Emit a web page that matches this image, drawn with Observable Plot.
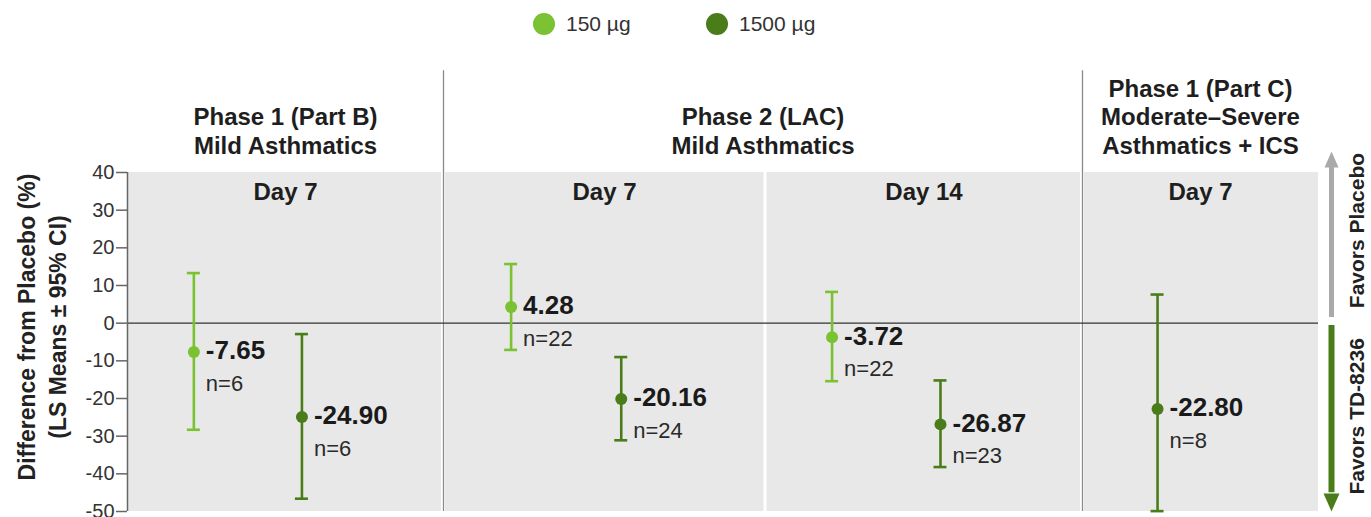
<!DOCTYPE html>
<html>
<head>
<meta charset="utf-8">
<script src="https://cdn.jsdelivr.net/npm/d3@7"></script>
<script src="https://cdn.jsdelivr.net/npm/@observablehq/plot@0.6"></script>
<style>
  html, body { margin: 0; padding: 0; background: #fff; }
  body { width: 1371px; height: 517px; overflow: hidden; font-family: "Liberation Sans", Arial, sans-serif; }
  #legend { height: 48px; position: relative; }
  .sw { position: absolute; top: 0; height: 48px; display: flex; align-items: center; font-size: 21px; color: #333; }
  .sw span.c { width: 22px; height: 22px; border-radius: 50%; display: inline-block; margin-right: 11px; }
  svg { display: block; }
</style>
</head>
<body>
<div id="legend"></div>
<div id="chart"></div>
<script>
// ---- data ----
const doses = ["150 µg", "1500 µg"];
const doseColors = ["#7ac231", "#4a7c19"];
const groupHeaders = ["Phase 1 (Part B)\nMild Asthmatics", "Phase 2 (LAC)\nMild Asthmatics", "Phase 1 (Part C)\nModerate–Severe\nAsthmatics + ICS"];
const panelDays = ["Day 7", "Day 7", "Day 14", "Day 7"];
const panelGroup = [0, 1, 1, 2];
const pointPanel = [0, 0, 1, 1, 2, 2, 3];
const pointDose = ["150 µg", "1500 µg", "150 µg", "1500 µg", "150 µg", "1500 µg", "1500 µg"];
const lsMean = [-7.65, -24.90, 4.28, -20.16, -3.72, -26.87, -22.80];
const ciLower = [-28.3, -46.6, -7.1, -31.1, -15.4, -38.2, -49.9];
const ciUpper = [13.3, -2.9, 15.7, -9.0, 8.3, -15.2, 7.6];
const nSubjects = [6, 6, 22, 24, 22, 23, 8];
const yTicks = [40, 30, 20, 10, 0, -10, -20, -30, -40, -50];
const yTitle = ["Difference from Placebo (%)", "(LS Means ± 95% CI)"];
const sideLabels = ["Favors Placebo", "Favors TD-8236"];

// ---- layout (x in pixel-like units from the y axis) ----
const panelStart = [0, 316, 638, 955];
const panelEnd = [316, 638, 955, 1191];
const doseFrac = {"150 µg": 0.21, "1500 µg": 0.552};
const singleFrac = 0.318;
const capHalf = 6.5;
const arrowX = 1204, sideTextX = 1230;

const panelCounts = pointPanel.reduce((m, p) => (m[p] = (m[p] || 0) + 1, m), {});
const points = lsMean.map((m, i) => {
  const p = pointPanel[i];
  const f = panelCounts[p] === 1 ? singleFrac : doseFrac[pointDose[i]];
  return {
    x: panelStart[p] + f * (panelEnd[p] - panelStart[p]),
    mean: m, lo: ciLower[i], hi: ciUpper[i], n: nSubjects[i], dose: pointDose[i]
  };
});
const panels = panelDays.map((d, i) => ({
  day: d, x1: panelStart[i], x2: panelEnd[i], cx: (panelStart[i] + panelEnd[i]) / 2
}));
const groups = groupHeaders.map((h, g) => {
  const idx = panelGroup.map((pg, i) => pg === g ? i : -1).filter(i => i >= 0);
  return {text: h, cx: (panelStart[idx[0]] + panelEnd[idx[idx.length - 1]]) / 2};
});
const separators = [panelEnd[0], panelEnd[2]];
const grayRects = panels.map((p, i) => ({
  x1: p.x1 + (i === 0 ? 1 : i === 2 ? 1.5 : 2),
  x2: p.x2 - (i === 1 ? 1.5 : i === 3 ? 0 : 2)
}));

// legend
const legend = document.getElementById("legend");
const legendLeft = [533, 706];
doses.forEach((d, i) => {
  const el = document.createElement("div");
  el.className = "sw";
  el.style.left = legendLeft[i] + "px";
  el.innerHTML = `<span class="c" style="background:${doseColors[i]}"></span>${d}`;
  legend.appendChild(el);
});

const font = "Liberation Sans, Arial, sans-serif";
const chart = Plot.plot({
  width: 1371,
  height: 469,
  marginTop: 124,
  marginBottom: 6,
  marginLeft: 127,
  marginRight: 53,
  style: {fontFamily: font, background: "transparent"},
  x: {domain: [0, 1191], axis: null},
  y: {domain: [-50, 40], axis: null},
  color: {domain: doses, range: doseColors},
  marks: [
    Plot.rectY(grayRects, {x1: "x1", x2: "x2", y1: -50, y2: 40, fill: "#e8e8e8"}),
    Plot.ruleX(separators, {y1: -50, y2: 67, stroke: "#8a8a8a", strokeWidth: 1.3}),
    Plot.ruleY([0], {x1: 0, x2: 1191, stroke: "#333", strokeWidth: 1.3}),
    Plot.ruleX([0], {y1: -50, y2: 40, stroke: "#666", strokeWidth: 1.5}),
    Plot.axisY({ticks: yTicks, tickFormat: d => String(d), tickSize: 11, tickPadding: 2,
      fontSize: 20, stroke: "#666", strokeWidth: 1.5, color: "#333", label: null}),
    // y title
    Plot.text([yTitle[0]], {text: d => d, frameAnchor: "left", textAnchor: "middle", rotate: -90, dx: -100, dy: -15,
      fontSize: 23, fontWeight: "bold", fill: "#222"}),
    Plot.text([yTitle[1]], {text: d => d, frameAnchor: "left", textAnchor: "middle", rotate: -90, dx: -69, dy: -15,
      fontSize: 23, fontWeight: "bold", fill: "#222"}),
    // headers
    Plot.text(groups, {x: "cx", text: "text", frameAnchor: "top", lineAnchor: "bottom", dy: -19,
      lineHeight: 1.17, fontSize: 24, fontWeight: "bold", fill: "#1e1e1e"}),
    Plot.text(panels, {x: "cx", text: "day", frameAnchor: "top", lineAnchor: "bottom", dy: 27,
      fontSize: 24, fontWeight: "bold", fill: "#1e1e1e"}),
    // error bars
    Plot.ruleX(points, {x: "x", y1: "lo", y2: "hi", stroke: "dose", strokeWidth: 2.6}),
    Plot.ruleY(points, {y: "lo", x1: d => d.x - capHalf, x2: d => d.x + capHalf, stroke: "dose", strokeWidth: 2.6}),
    Plot.ruleY(points, {y: "hi", x1: d => d.x - capHalf, x2: d => d.x + capHalf, stroke: "dose", strokeWidth: 2.6}),
    Plot.dot(points, {x: "x", y: "mean", fill: "dose", r: 6}),
    // labels
    Plot.text(points, {x: "x", y: "mean", text: d => d.mean.toFixed(2), textAnchor: "start", lineAnchor: "middle",
      dx: 12, dy: -1, fontSize: 26, fontWeight: "bold", fill: "#1a1a1a"}),
    Plot.text(points, {x: "x", y: "mean", text: d => "n=" + d.n, textAnchor: "start", lineAnchor: "bottom",
      dx: 12, dy: 39, fontSize: 22, fill: "#2a2a2a"}),
    // side arrows
    Plot.ruleX([arrowX], {y1: 1.5, y2: 41.5, stroke: "#a9a9a9", strokeWidth: 5}),
    Plot.vector([arrowX], {x: d => d, y: 41.3, rotate: 0, length: 16, r: 7, shape: "spike", anchor: "start",
      fill: "#a9a9a9", stroke: "none"}),
    Plot.ruleX([arrowX], {y1: -0.6, y2: -45, stroke: "#4a7c19", strokeWidth: 6}),
    Plot.vector([arrowX], {x: d => d, y: -45.2, rotate: 180, length: 18, r: 8, shape: "spike", anchor: "start",
      fill: "#4a7c19", stroke: "none"}),
    Plot.text([sideLabels[0]], {x: sideTextX, y: 0, text: d => d, rotate: -90, textAnchor: "start", dy: -15,
      fontSize: 21, fontWeight: "bold", fill: "#222"}),
    Plot.text([sideLabels[1]], {x: sideTextX, y: 0, text: d => d, rotate: -90, textAnchor: "end", dy: 15,
      fontSize: 21, fontWeight: "bold", fill: "#222"})
  ]
});
document.getElementById("chart").appendChild(chart);
</script>
</body>
</html>
